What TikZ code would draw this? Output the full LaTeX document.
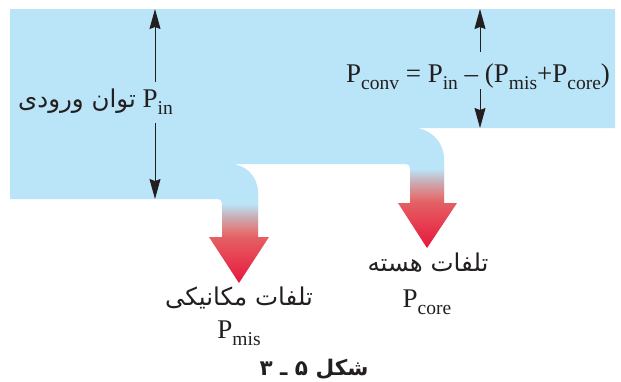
\documentclass[tikz,border=0pt]{standalone}
\usepackage{fontspec}
\setmainfont{Liberation Serif}
\newfontfamily\arabicfont[Script=Arabic]{DejaVu Sans}
\TeXXeTstate=1
\usetikzlibrary{arrows.meta,calc}
\definecolor{pipeblue}{RGB}{186,228,247}
\definecolor{lossred}{RGB}{232,22,60}
\definecolor{lossmid}{RGB}{228,96,100}
\definecolor{losssalmon}{RGB}{224,122,122}
\definecolor{lossgray}{RGB}{204,168,176}
\definecolor{ink}{RGB}{35,31,32}
\pgfdeclareverticalshading{lossgrad}{100bp}{color(0bp)=(lossred); color(25bp)=(lossred); color(51bp)=(lossmid); color(55bp)=(losssalmon); color(62bp)=(lossgray); color(70bp)=(pipeblue); color(100bp)=(pipeblue)}
\newcommand\mainsz{\fontsize{27}{31}\selectfont}
\newcommand\farsz{\fontsize{24.5}{29}\selectfont}
\newcommand\Psb[1]{P\raisebox{-7pt}{\fontsize{19.5}{20}\selectfont #1}}
\tikzset{
  lbl/.style={inner sep=0pt, text=ink, font=\mainsz},
  dimarrow/.style={draw=ink, line width=1pt, -{Stealth[length=20pt,width=11pt,inset=2pt]}},
  flow/.style={fill=pipeblue, draw=none},
  lossshade/.style={shade, shading=lossgrad, draw=none}
}
\begin{document}
\begin{tikzpicture}[x=1pt,y=-1pt]
\useasboundingbox (0,0) rectangle (621,381);
% main power flow band
\fill[flow] (10,9) -- (615,9) -- (615,128) -- (413,128)
  arc[start angle=-90,end angle=0,radius=31] -- (444,203) -- (410,203)
  -- (410,168) arc[start angle=0,end angle=-90,radius=4] -- (230,164)
  arc[start angle=-90,end angle=0,radius=28] -- (258,237) -- (222,237)
  -- (222,203) arc[start angle=0,end angle=-90,radius=4] -- (10,199) -- cycle;
% loss arrows (shaded stems and heads)
\path[lossshade] (222,195) -- (258,195) -- (258,237) -- (269,237) -- (239,283)
  -- (209,237) -- (222,237) -- cycle;
\path[lossshade] (410,160) -- (444,160) -- (444,203) -- (457,203) -- (427,248)
  -- (398,203) -- (410,203) -- cycle;
% labels
\node[lbl, anchor=base east] (pinlbl) at (173,107)
  {{\arabicfont\farsz\beginR توان ورودی\endR} \Psb{in}};
\node[lbl, anchor=base] (conv) at (478,82)
  {\Psb{conv} = \Psb{in} – (\Psb{mis}+\Psb{core})};
\node[lbl, anchor=base] (mislbl) at (239,305) {\arabicfont\farsz\beginR تلفات مکانیکی\endR};
\node[lbl, anchor=base] (missym) at (239,338) {\Psb{mis}};
\node[lbl, anchor=base] (corelbl) at (428,271) {\arabicfont\farsz\beginR تلفات هسته\endR};
\node[lbl, anchor=base] (coresym) at (427,307) {\Psb{core}};
\node[lbl, anchor=base] (caption) at (314,375) {\arabicfont\bfseries\fontsize{21.5}{24}\selectfont\beginR شکل ۵ ـ ۳\endR};
% dimension arrows
\coordinate (pintop) at (155,9);
\coordinate (pinbot) at (155,199);
\coordinate (convtop) at (480,9);
\coordinate (convbot) at (480,128);
\draw[dimarrow] ($(pinlbl.base -| pintop)+(0,-25)$) -- (pintop);
\draw[dimarrow] ($(pinlbl.base -| pinbot)+(0,16)$) -- (pinbot);
\draw[dimarrow] ($(conv.base -| convtop)+(0,-30)$) -- (convtop);
\draw[dimarrow] ($(conv.base -| convbot)+(0,7)$) -- (convbot);
\end{tikzpicture}
\end{document}
